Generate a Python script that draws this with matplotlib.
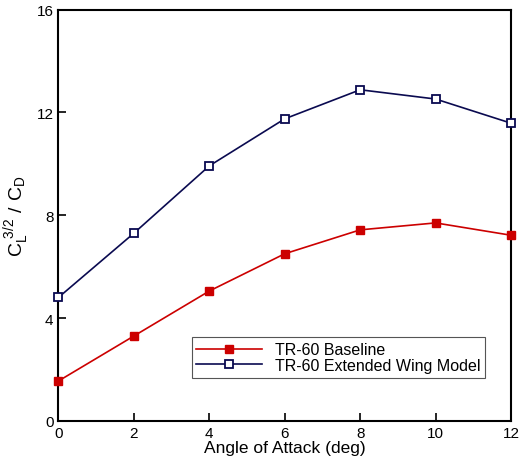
import matplotlib
matplotlib.use("Agg")
import matplotlib.pyplot as plt

plt.rcParams['font.family'] = ['Liberation Sans', 'DejaVu Sans']

aoa = [0, 2, 4, 6, 8, 10, 12]
baseline = [1.55, 3.3, 5.05, 6.5, 7.43, 7.7, 7.22]
extended = [4.8, 7.3, 9.92, 11.75, 12.88, 12.52, 11.58]
labels = ["TR-60 Baseline", "TR-60 Extended Wing Model"]

fig = plt.figure(figsize=(5.22, 4.6), dpi=100)
ax = fig.add_axes([0.112, 0.083, 0.867, 0.894])

ax.plot(aoa, baseline, color='#cc0000', lw=1.2, marker='s', ms=6,
        mfc='#cc0000', mec='#cc0000', label=labels[0], clip_on=False, zorder=3)
ax.plot(aoa, extended, color='#0a0a50', lw=1.2, marker='s', ms=6,
        mfc='white', mec='#0a0a50', mew=1.3, label=labels[1], clip_on=False, zorder=3)

ax.set_xlim(0, 12)
ax.set_ylim(0, 16)
ax.set_xticks(aoa)
ax.set_yticks([0, 4, 8, 12, 16])
ax.tick_params(direction='in', length=6, width=1.2, labelsize=11, top=False, right=False)
ax.tick_params(axis='x', pad=4)
for s in ax.spines.values():
    s.set_linewidth(1.5)

ax.set_xlabel("Angle of Attack (deg)", fontsize=12.5, labelpad=0)
ax.set_ylabel(r"$\mathregular{C_L^{\ 3/2}\ /\ C_D}$", fontsize=14, labelpad=4)

leg = ax.legend(loc='lower right', bbox_to_anchor=(0.96, 0.085), fontsize=11.5,
                frameon=True, fancybox=False, edgecolor='#555555', framealpha=1,
                handlelength=4.1, borderpad=0.3, labelspacing=0.05, handletextpad=0.8)
leg.get_frame().set_linewidth(0.8)

fig.savefig("out.png", dpi=100)
